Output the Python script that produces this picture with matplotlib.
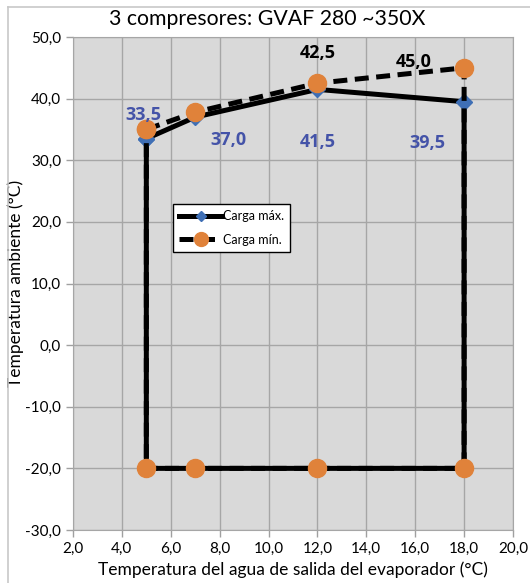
import matplotlib.pyplot as plt
from matplotlib.lines import Line2D

plt.rcParams['font.family'] = ['Lato', 'DejaVu Sans']

# Carga max. (contorno solido) y Carga min. (contorno discontinuo)
x_max = [5, 7, 12, 18, 18, 12, 7, 5, 5]
y_max = [33.5, 37.0, 41.5, 39.5, -20, -20, -20, -20, 33.5]
x_min = [5, 7, 12, 18, 18, 12, 7, 5, 5]
y_min = [35.0, 37.8, 42.5, 45.0, -20, -20, -20, -20, 35.0]

# etiquetas de valor: (indice, texto, desplazamiento en px)
lab_max = [(0, '33,5', (-3, 24)), (1, '37,0', (33, -23)),
           (2, '41,5', (0, -53)), (3, '39,5', (-37, -41))]
lab_min = [(2, '42,5', (0, 30)), (3, '45,0', (-50, 6))]

x_ticks = [2, 4, 6, 8, 10, 12, 14, 16, 18, 20]
y_ticks = [-30, -20, -10, 0, 10, 20, 30, 40, 50]

fig = plt.figure(figsize=(5.3, 5.83), dpi=100)
ax = fig.add_axes([73 / 530, 1 - 530 / 583, (513 - 73) / 530, (530 - 37) / 583])
ax.set_facecolor('#d9d9d9')

dash = (0, (2.8, 1.5))
ax.plot(x_max, y_max, color='black', lw=3.6, marker='D', ms=8,
        mfc='#3f6fb5', mec='#3f6fb5', zorder=3, solid_capstyle='round')
ax.plot(x_min, y_min, color='black', lw=3.6, ls=dash, marker='o', ms=13,
        mfc='#e0823a', mec='#e0823a', zorder=4)

lab_font = dict(family=['Open Sans', 'DejaVu Sans'], size=13, weight='bold')
for i, t, off in lab_max:
    ax.annotate(t, (x_max[i], y_max[i]), xytext=off, textcoords='offset pixels',
                ha='center', va='center', color='#4453a8', zorder=5, **lab_font)
for i, t, off in lab_min:
    ax.annotate(t, (x_min[i], y_min[i]), xytext=off, textcoords='offset pixels',
                ha='center', va='center', color='black', zorder=5, **lab_font)

ax.set_xlim(2, 20)
ax.set_ylim(-30, 50)
ax.set_xticks(x_ticks)
ax.set_yticks(y_ticks)
ax.set_xticklabels([f'{v:.1f}'.replace('.', ',') for v in x_ticks])
ax.set_yticklabels([f'{v:.1f}'.replace('.', ',') for v in y_ticks])
ax.tick_params(labelsize=11, length=5, color='#a0a0a0', width=1)
ax.grid(True, color='#a6a6a6', lw=1)
ax.set_axisbelow(True)
for s in ax.spines.values():
    s.set_color('#a6a6a6')

ax.set_xlabel('Temperatura del agua de salida del evaporador (°C)', fontsize=12.5, labelpad=4)
ax.set_ylabel('Temperatura ambiente (°C)', fontsize=12.5, labelpad=1)
fig.text(0.505, 1 - 19 / 583, '3 compresores: GVAF 280 ~350X', fontsize=15.3,
         ha='center', va='center')

handles = [Line2D([], [], color='black', lw=3.6, marker='D', ms=5, mfc='#3f6fb5', mec='#3f6fb5'),
           Line2D([], [], color='black', lw=3.6, ls=dash, marker='o', ms=10,
                  mfc='#e0823a', mec='#e0823a')]
leg = ax.legend(handles, ['Carga máx.', 'Carga mín.'], loc='upper left',
                bbox_to_anchor=((173 - 73) / 440, (530 - 204) / 493), fontsize=9,
                frameon=True, fancybox=False, edgecolor='black', framealpha=1,
                handlelength=3.4, handletextpad=0.1, borderpad=0.5, labelspacing=0.9,
                borderaxespad=0)
leg.get_frame().set_linewidth(1)

fig.add_artist(Line2D([8 / 530, 8 / 530], [0, 1 - 7 / 583], color='#c8c8c8', lw=1.2))
fig.add_artist(Line2D([8 / 530, 1], [1 - 7 / 583, 1 - 7 / 583], color='#c8c8c8', lw=1.2))

fig.savefig('out.png', dpi=100, facecolor='white')
